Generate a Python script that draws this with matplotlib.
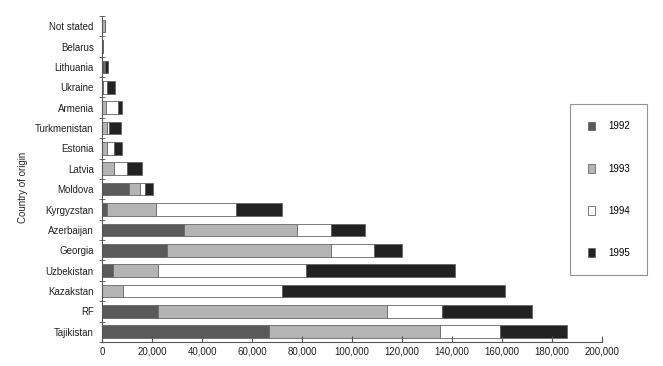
import numpy as np
import matplotlib.pyplot as plt
from matplotlib.patches import Patch

plt.rcParams['font.family'] = ['Liberation Sans', 'DejaVu Sans']

countries = ['Tajikistan', 'RF', 'Kazakstan', 'Uzbekistan', 'Georgia', 'Azerbaijan',
             'Kyrgyzstan', 'Moldova', 'Latvia', 'Estonia', 'Turkmenistan', 'Armenia',
             'Ukraine', 'Lithuania', 'Belarus', 'Not stated']
y1992 = [66800, 22500, 0, 4300, 26000, 32800, 1900, 10800, 0, 0, 0, 0, 0, 700, 200, 0]
y1993 = [68200, 91400, 8500, 18200, 65500, 45100, 19700, 4400, 4600, 1900, 2000, 1600, 500, 300, 200, 1200]
y1994 = [24000, 22100, 63500, 59100, 17200, 13700, 32000, 2000, 5400, 2700, 700, 4700, 1500, 300, 0, 0]
y1995 = [27000, 36000, 89000, 59400, 11300, 13400, 18300, 3300, 6000, 3500, 4800, 1600, 3300, 1000, 0, 0]
years = ['1992', '1993', '1994', '1995']
colors = ['#5a5a5a', '#b4b4b4', '#ffffff', '#222222']

fig = plt.figure(figsize=(6.63, 3.66), dpi=100)
ax = fig.add_axes([0.154, 0.0656, 0.754, 0.8907])

pos = np.arange(len(countries))
left = np.zeros(len(countries))
for vals, c in zip([y1992, y1993, y1994, y1995], colors):
    ax.barh(pos, vals, left=left, height=0.62, color=c, edgecolor='#666666', linewidth=0.6)
    left += np.array(vals)

ax.set_ylim(-0.5, len(countries) - 0.5)
ax.set_xlim(0, 200000)
ax.set_yticks(pos)
ax.set_yticklabels(countries)
ax.set_yticks(np.arange(-0.5, len(countries), 1), minor=True)
ax.tick_params(axis='y', which='major', length=0, labelsize=7, colors='#222222', pad=6)
ax.tick_params(axis='y', which='minor', direction='inout', length=5, color='#555555')
ax.set_xticks(np.arange(0, 200001, 20000))
ax.set_xticklabels([f'{v:,}' for v in range(0, 200001, 20000)])
ax.tick_params(axis='x', direction='in', length=4, labelsize=7, colors='#222222', color='#555555')
for s in ['top', 'right']:
    ax.spines[s].set_visible(False)
for s in ['left', 'bottom']:
    ax.spines[s].set_color('#555555')
    ax.spines[s].set_linewidth(0.8)

fig.text(0.035, 0.489, 'Country of origin', rotation=90, ha='center', va='center',
         fontsize=7, color='#222222')

handles = [Patch(facecolor=c, edgecolor='#666666', linewidth=0.6) for c in colors]
leg = fig.legend(handles, years, loc='upper left', bbox_to_anchor=(0.86, 0.716),
                 frameon=True, fancybox=False, fontsize=7, handlelength=0.8, handleheight=1.0,
                 labelspacing=3.3, borderpad=1.8, handletextpad=1.3, borderaxespad=0)
leg.get_frame().set_edgecolor('#777777')
leg.get_frame().set_linewidth(0.8)

fig.savefig('out.png', dpi=100)
